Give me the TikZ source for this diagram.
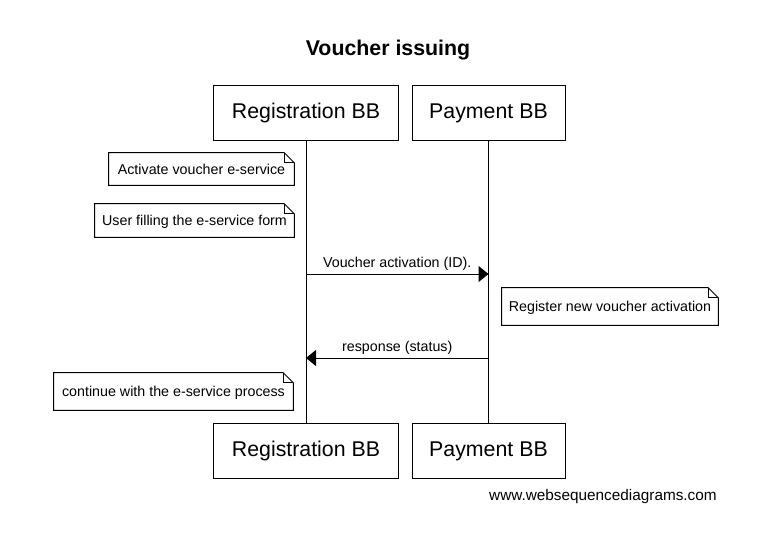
\documentclass[tikz,border=0pt]{standalone}
\usepackage{fontspec}
\setmainfont{Liberation Sans}
\usetikzlibrary{arrows.meta}
\newcommand\notedraw[1]{%
  \draw[line width=0.75pt] (#1.north west) -- ([xshift=-7.5pt]#1.north east) -- ([yshift=-7.5pt]#1.north east) -- (#1.south east) -- (#1.south west) -- cycle;
  \draw[line width=0.6pt] ([xshift=-7.5pt]#1.north east) |- ([yshift=-7.5pt]#1.north east);}
\begin{document}
\begin{tikzpicture}[x=0.75pt,y=-0.75pt,
  actor/.style={draw, line width=0.75pt, minimum height=41.25pt, inner sep=0pt, text height=11.5pt, text depth=3pt, font=\fontsize{16}{19}\selectfont},
  notebox/.style={inner sep=0pt, text height=9pt, text depth=1.5pt, font=\fontsize{10.7}{12}\selectfont},
  msg/.style={line width=0.75pt, -{Triangle[length=7.5pt,width=12pt]}},
  msglabel/.style={font=\fontsize{10.7}{12}\selectfont, inner sep=2pt},
  lifeline/.style={line width=0.75pt}]
\useasboundingbox (0,0) rectangle (763,535);

\node[font=\bfseries\fontsize{16}{19}\selectfont] (title) at (388,50) {Voucher issuing};

\node[actor, minimum width=138.75pt] (regTop) at (306,112.5) {Registration BB};
\node[actor, minimum width=114.75pt] (payTop) at (488.5,112.5) {Payment BB};
\node[actor, minimum width=138.75pt] (regBot) at (306,450.5) {Registration BB};
\node[actor, minimum width=114.75pt] (payBot) at (488.5,450.5) {Payment BB};

\draw[lifeline] (regTop.south) -- (regBot.north);
\draw[lifeline] (payTop.south) -- (payBot.north);

\node[notebox, minimum width=138.75pt, minimum height=24pt] (n1) at (201.5,169) {Activate voucher e-service};
\notedraw{n1}
\node[notebox, minimum width=149.25pt, minimum height=24.75pt] (n2) at (194.5,220.5) {User filling the e-service form};
\notedraw{n2}

\coordinate (m1s) at (regTop.south |- 0,274);
\coordinate (m1e) at (payTop.south |- 0,274);
\draw[msg] (m1s) -- node[msglabel, above] (l1) {Voucher activation (ID).} (m1e);

\node[notebox, minimum width=162pt, minimum height=27.75pt] (n3) at (610,306.5) {Register new voucher activation};
\notedraw{n3}

\coordinate (m2s) at (payTop.south |- 0,358);
\coordinate (m2e) at (regTop.south |- 0,358);
\draw[msg] (m2s) -- node[msglabel, above] (l2) {response (status)} (m2e);

\node[notebox, minimum width=179.25pt, minimum height=27.75pt] (n4) at (173.5,391.5) {continue with the e-service process};
\notedraw{n4}

\node[anchor=east, inner sep=0pt, font=\fontsize{11.5}{13}\selectfont] (web) at (717,497) {www.websequencediagrams.com};
\end{tikzpicture}
\end{document}
